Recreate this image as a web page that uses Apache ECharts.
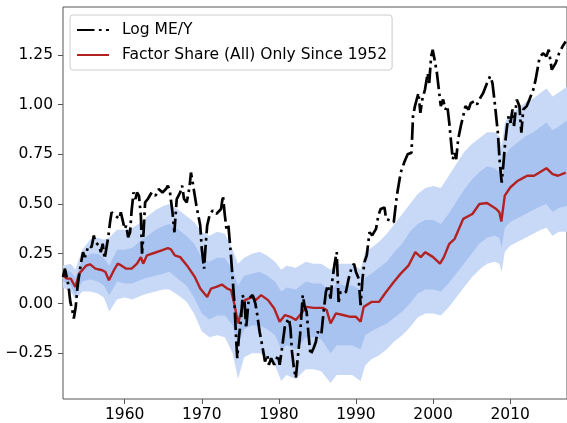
<!DOCTYPE html>
<html><head><meta charset="utf-8">
<script src="https://cdn.jsdelivr.net/npm/echarts@6/dist/echarts.min.js"></script>
<style>html,body{margin:0;padding:0;background:#fff}#c{width:567px;height:423px}</style>
</head><body><div id="c"></div>
<script>
// ---- Log ME/Y (black dash-dot) ----
const blackYears = [1952.0,1952.25,1952.45,1952.7,1952.95,1953.2,1953.4,1953.65,1953.9,1954.35,1954.6,1954.85,1955.3,1955.7,1956.0,1956.2,1956.7,1956.9,1957.15,1957.4,1957.65,1957.9,1958.1,1958.3,1958.8,1959.3,1959.5,1960.0,1960.2,1960.45,1960.7,1960.9,1961.15,1961.4,1961.6,1961.85,1962.1,1962.25,1962.45,1962.65,1963.0,1963.5,1964.0,1964.4,1964.9,1965.35,1965.6,1965.85,1966.2,1966.45,1966.75,1967.2,1967.45,1967.7,1968.05,1968.4,1968.6,1968.85,1969.3,1969.8,1970.0,1970.3,1970.5,1970.7,1971.0,1971.4,1971.9,1972.15,1972.5,1972.75,1972.95,1973.2,1973.45,1973.75,1974.0,1974.25,1974.45,1974.6,1974.8,1975.1,1975.3,1975.55,1975.75,1976.1,1976.6,1976.95,1977.2,1977.5,1977.9,1978.2,1978.5,1978.7,1979.0,1979.4,1979.9,1980.1,1980.35,1980.8,1981.3,1981.5,1981.7,1981.95,1982.2,1982.4,1982.75,1983.1,1983.35,1983.6,1983.85,1984.1,1984.5,1984.8,1985.0,1985.5,1985.8,1986.1,1986.35,1986.7,1986.9,1987.2,1987.5,1987.75,1988.0,1988.35,1988.7,1989.05,1989.4,1989.75,1990.0,1990.35,1990.6,1990.85,1991.1,1991.4,1991.75,1992.1,1992.6,1992.9,1993.2,1993.7,1993.9,1994.4,1994.9,1995.3,1995.8,1996.25,1996.7,1997.2,1997.4,1997.65,1998.1,1998.35,1998.6,1998.95,1999.3,1999.5,1999.75,1999.95,2000.2,2000.5,2000.8,2001.0,2001.3,2001.6,2001.85,2002.1,2002.3,2002.55,2002.8,2003.0,2003.25,2003.6,2004.0,2004.2,2004.6,2004.9,2005.4,2005.7,2006.0,2006.5,2007.0,2007.4,2007.7,2008.0,2008.4,2008.65,2008.9,2009.1,2009.35,2009.6,2009.8,2010.05,2010.3,2010.5,2010.85,2011.2,2011.45,2011.7,2012.15,2012.5,2013.0,2013.3,2013.8,2014.25,2014.7,2015.0,2015.4,2015.9,2016.35,2016.8,2017.2];
const blackVals = [0.133,0.175,0.167,0.092,0.008,-0.033,-0.075,-0.017,0.092,0.208,0.258,0.233,0.29,0.283,0.342,0.308,0.29,0.258,0.3,0.225,0.283,0.342,0.408,0.458,0.442,0.425,0.458,0.375,0.392,0.333,0.358,0.467,0.558,0.525,0.558,0.542,0.442,0.25,0.358,0.508,0.525,0.558,0.542,0.575,0.558,0.575,0.592,0.567,0.458,0.358,0.525,0.558,0.592,0.525,0.508,0.583,0.658,0.6,0.492,0.392,0.275,0.175,0.292,0.392,0.442,0.467,0.45,0.458,0.475,0.542,0.458,0.375,0.392,0.258,0.125,-0.008,-0.175,-0.275,-0.175,-0.075,0.042,0.008,-0.125,0.025,0.042,0.0,-0.058,-0.142,-0.225,-0.292,-0.258,-0.308,-0.275,-0.308,-0.258,-0.308,-0.242,-0.108,-0.075,-0.125,-0.242,-0.325,-0.375,-0.292,-0.158,0.042,-0.017,-0.042,-0.158,-0.258,-0.225,-0.192,-0.142,-0.158,-0.042,0.058,0.092,0.025,0.108,0.192,0.258,0.008,0.058,0.05,0.058,0.125,0.175,0.2,0.158,0.125,-0.008,0.125,0.208,0.242,0.358,0.342,0.375,0.442,0.475,0.483,0.425,0.417,0.408,0.542,0.658,0.708,0.75,0.758,0.942,0.992,1.058,0.958,1.025,1.075,1.158,1.108,1.242,1.275,1.225,1.158,1.058,0.992,1.025,0.975,0.992,0.908,0.825,0.725,0.758,0.725,0.825,0.892,0.958,0.992,0.975,1.008,1.017,1.0,1.025,1.058,1.108,1.142,1.108,1.008,0.858,0.708,0.608,0.692,0.808,0.892,0.942,0.908,0.975,0.892,1.025,0.992,0.858,0.975,0.992,1.025,1.075,1.125,1.233,1.258,1.242,1.275,1.175,1.208,1.258,1.292,1.317];

// ---- Factor Share (All) Only Since 1952 (red) ----
const redYears = [1952.0,1952.5,1953.0,1953.6,1954.1,1955.0,1955.5,1956.2,1957.1,1957.5,1957.95,1958.6,1959.1,1959.6,1960.2,1960.9,1961.6,1962.1,1962.4,1962.9,1963.9,1964.8,1965.6,1966.0,1966.5,1967.2,1968.1,1969.1,1969.8,1970.7,1971.2,1971.9,1972.6,1973.3,1973.8,1974.25,1974.7,1975.1,1975.6,1976.6,1977.0,1977.7,1978.6,1979.4,1980.1,1980.8,1981.5,1982.2,1982.9,1983.6,1984.5,1985.7,1986.2,1986.7,1987.4,1988.3,1989.3,1990.0,1990.6,1991.0,1992.0,1993.0,1993.9,1994.9,1995.8,1996.8,1997.7,1998.4,1999.0,2000.0,2000.9,2001.4,2002.1,2002.8,2003.9,2005.1,2006.0,2007.0,2008.2,2008.6,2008.85,2009.3,2010.0,2011.0,2011.4,2012.2,2013.1,2013.8,2014.7,2015.5,2016.2,2017.2];
const redVals = [0.142,0.125,0.125,0.083,0.15,0.19,0.197,0.175,0.167,0.158,0.117,0.167,0.2,0.19,0.175,0.175,0.2,0.233,0.2,0.242,0.255,0.267,0.278,0.272,0.242,0.233,0.19,0.133,0.075,0.033,0.075,0.083,0.095,0.075,0.067,-0.008,-0.1,-0.042,0.017,0.033,0.017,0.042,0.017,-0.025,-0.092,-0.058,-0.067,-0.083,-0.05,-0.017,-0.022,-0.022,-0.033,-0.1,-0.05,-0.058,-0.067,-0.067,-0.092,-0.017,0.008,0.008,0.058,0.108,0.15,0.19,0.258,0.233,0.258,0.233,0.2,0.233,0.3,0.325,0.425,0.45,0.5,0.505,0.475,0.458,0.412,0.542,0.583,0.617,0.625,0.642,0.642,0.658,0.68,0.65,0.642,0.658];

// ---- uncertainty bands ----
const bandYears = [1952.0,1953.0,1953.6,1954.5,1955.5,1956.5,1957.3,1958.0,1959.0,1960.0,1961.0,1962.2,1963.0,1964.0,1965.0,1965.8,1967.0,1968.0,1969.0,1970.0,1971.0,1972.0,1973.0,1974.0,1974.7,1975.5,1976.5,1977.5,1978.5,1979.5,1980.3,1981.0,1982.2,1983.5,1984.5,1985.5,1986.7,1987.5,1988.5,1989.5,1990.6,1991.2,1992.0,1993.0,1994.0,1995.0,1996.0,1997.0,1998.0,1999.0,2000.0,2001.0,2002.0,2003.0,2004.0,2005.0,2006.0,2007.0,2008.0,2008.6,2008.9,2009.3,2010.0,2011.0,2012.0,2013.0,2014.0,2014.7,2015.5,2016.3,2017.37];
const outerLo = [0.08,0.06,0.02,0.06,0.06,0.05,0.03,-0.04,0.02,0.03,0.02,0.04,0.05,0.06,0.07,0.07,0.04,0.01,-0.05,-0.14,-0.17,-0.16,-0.17,-0.25,-0.38,-0.27,-0.25,-0.25,-0.27,-0.31,-0.39,-0.36,-0.38,-0.33,-0.33,-0.34,-0.40,-0.36,-0.36,-0.36,-0.39,-0.31,-0.28,-0.26,-0.23,-0.19,-0.16,-0.12,-0.07,-0.05,-0.05,-0.06,-0.02,0.03,0.08,0.13,0.17,0.20,0.21,0.20,0.16,0.26,0.29,0.31,0.33,0.35,0.37,0.38,0.34,0.36,0.36];
const innerLo = [0.11,0.09,0.04,0.11,0.12,0.11,0.09,0.04,0.11,0.10,0.10,0.12,0.13,0.14,0.15,0.16,0.12,0.09,0.03,-0.05,-0.08,-0.06,-0.06,-0.11,-0.21,-0.13,-0.11,-0.11,-0.13,-0.16,-0.23,-0.21,-0.23,-0.17,-0.17,-0.18,-0.25,-0.21,-0.21,-0.21,-0.23,-0.16,-0.14,-0.12,-0.10,-0.07,-0.04,0.00,0.05,0.07,0.07,0.06,0.10,0.15,0.20,0.25,0.30,0.33,0.34,0.33,0.28,0.38,0.41,0.43,0.45,0.47,0.49,0.50,0.46,0.48,0.49];
const innerHi = [0.17,0.16,0.13,0.22,0.25,0.25,0.23,0.19,0.27,0.27,0.28,0.32,0.34,0.37,0.39,0.40,0.37,0.34,0.30,0.23,0.21,0.23,0.23,0.17,0.09,0.14,0.15,0.16,0.14,0.11,0.06,0.08,0.07,0.11,0.10,0.10,0.06,0.10,0.09,0.09,0.07,0.13,0.15,0.18,0.21,0.26,0.30,0.36,0.40,0.42,0.42,0.40,0.45,0.51,0.57,0.62,0.66,0.69,0.68,0.66,0.60,0.74,0.78,0.81,0.84,0.86,0.89,0.91,0.87,0.89,0.92];
const outerHi = [0.19,0.20,0.17,0.27,0.32,0.33,0.32,0.33,0.37,0.37,0.38,0.41,0.44,0.47,0.49,0.50,0.47,0.44,0.41,0.36,0.34,0.36,0.35,0.27,0.20,0.23,0.25,0.26,0.24,0.21,0.17,0.19,0.18,0.21,0.20,0.20,0.17,0.20,0.20,0.20,0.17,0.26,0.28,0.31,0.35,0.40,0.45,0.50,0.55,0.58,0.59,0.58,0.64,0.70,0.76,0.80,0.83,0.86,0.86,0.84,0.79,0.91,0.95,0.98,1.01,1.03,1.06,1.08,1.04,1.06,1.09];

// ---- axis ticks ----
const xTickValues = [1960,1970,1980,1990,2000,2010];
const yTickValues = [-0.25,0,0.25,0.5,0.75,1.0,1.25];

const FONT = 'DejaVu Sans';
const pairs = (xs, ys) => xs.map((x, i) => [x, ys[i]]);
const LIGHT = '#c8d9f7', MEDIUM = '#a9c3f1';

function bandPolygon(api, hi, lo, color) {
  const top = bandYears.map((x, i) => api.coord([x, hi[i]]));
  const bottom = bandYears.map((x, i) => api.coord([x, lo[i]])).reverse();
  return { type: 'polygon', shape: { points: top.concat(bottom) }, style: { fill: color } };
}

const chart = echarts.init(document.getElementById('c'), null, { renderer: 'canvas' });
chart.setOption({
  animation: false,
  backgroundColor: '#fff',
  grid: { left: 63, right: -2, top: 7, bottom: 22, show: true, borderColor: '#555', borderWidth: 1, backgroundColor: 'transparent' },
  xAxis: {
    type: 'value', min: 1952, max: 2017.37,
    axisLine: { show: false, onZero: false },
    splitLine: { show: false },
    axisTick: { show: true, length: 5, lineStyle: { color: '#555' }, customValues: xTickValues },
    axisLabel: { customValues: xTickValues, color: '#000', fontFamily: FONT, fontSize: 15.5, margin: 8, formatter: v => String(v) }
  },
  yAxis: {
    type: 'value', min: -0.48, max: 1.49,
    axisLine: { show: false, onZero: false },
    splitLine: { show: false },
    axisTick: { show: true, length: 5, lineStyle: { color: '#555' }, customValues: yTickValues },
    axisLabel: { customValues: yTickValues, color: '#000', fontFamily: FONT, fontSize: 15.5, margin: 10,
      formatter: v => v.toFixed(2).replace('-', '\u2212') }
  },
  legend: {
    data: ['Log ME/Y', 'Factor Share (All) Only Since 1952'],
    orient: 'vertical', left: 70, top: 15,
    padding: [7, 5, 7, 6], itemGap: 9, itemWidth: 32, itemHeight: 14,
    itemStyle: { opacity: 0 },
    backgroundColor: 'rgba(255,255,255,0.8)', borderColor: '#cccccc', borderWidth: 1, borderRadius: 3,
    textStyle: { color: '#000', fontFamily: FONT, fontSize: 15.5, padding: [0, 0, 0, 8] }
  },
  series: [
    {
      name: 'bands', type: 'custom', silent: true, z: 1, clip: true,
      data: [[1990, 0.5]],
      renderItem: (params, api) => ({
        type: 'group',
        children: [
          bandPolygon(api, outerHi, outerLo, LIGHT),
          bandPolygon(api, innerHi, innerLo, MEDIUM)
        ]
      })
    },
    {
      name: 'Factor Share (All) Only Since 1952', type: 'line', data: pairs(redYears, redVals),
      symbol: 'none', z: 3, lineStyle: { color: '#b22222', width: 2.4 }, itemStyle: { color: '#b22222' }
    },
    {
      name: 'Log ME/Y', type: 'line', data: pairs(blackYears, blackVals),
      symbol: 'none', z: 4, lineStyle: { color: '#000', width: 2.7, type: [17.5, 4.4, 2.7, 4.4], cap: 'butt' }, itemStyle: { color: '#000' }
    }
  ]
});
</script>
</body></html>
